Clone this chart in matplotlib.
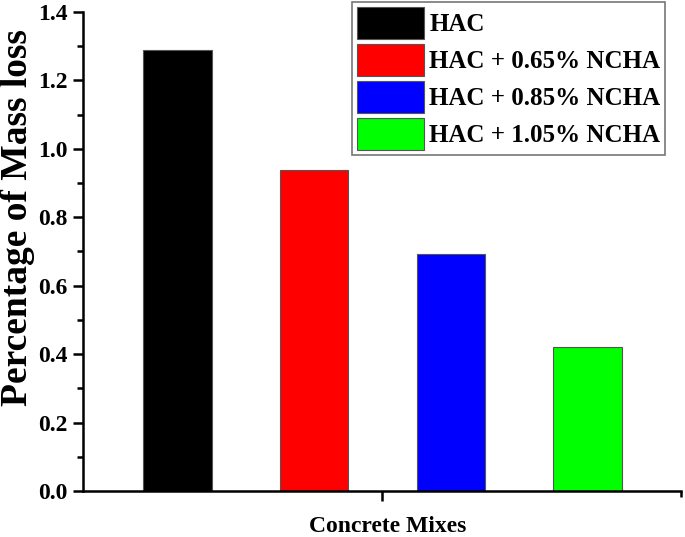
import matplotlib
matplotlib.use("Agg")
import matplotlib.pyplot as plt
from matplotlib.ticker import MultipleLocator

categories = ["HAC", "HAC + 0.65% NCHA", "HAC + 0.85% NCHA", "HAC + 1.05% NCHA"]
values = [1.289, 0.938, 0.692, 0.420]
colors = ["#000000", "#ff0000", "#0000ff", "#00ff00"]

plt.rcParams['font.family'] = ['Liberation Serif', 'DejaVu Serif']
plt.rcParams['font.weight'] = 'bold'

fig = plt.figure(figsize=(6.85, 5.37), dpi=100)
ax = fig.add_axes([0.1212, 0.0857, 0.873, 0.892])

xs = [1, 2, 3, 4]
for x, v, c, lab in zip(xs, values, colors, categories):
    ax.bar(x, v, width=0.5, color=c, edgecolor="#555555", linewidth=0.8, label=lab)

ax.set_xlim(0.31, 4.685)
ax.set_ylim(0, 1.4)
ax.yaxis.set_major_locator(MultipleLocator(0.2))
ax.yaxis.set_minor_locator(MultipleLocator(0.1))
ax.set_xticks([2.5])
ax.set_xticklabels([""])
ax.set_xticks([4.685], minor=True)

for s in ["top", "right"]:
    ax.spines[s].set_visible(False)
for s in ["left", "bottom"]:
    ax.spines[s].set_linewidth(1.8)

ax.tick_params(axis='both', which='major', length=7, width=1.8, direction='out')
ax.tick_params(axis='both', which='minor', length=4, width=1.8, direction='out')
ax.tick_params(axis='y', labelsize=17, pad=4)
for t in ax.get_yticklabels():
    t.set_fontweight('bold')

ax.set_ylabel("Percentage of Mass loss", fontsize=27, fontweight='bold')
ax.yaxis.set_label_coords(-0.081, 0.57)
ax.set_xlabel("Concrete Mixes", fontsize=17, fontweight='bold')
ax.xaxis.set_label_coords(0.51, -0.053)

leg = ax.legend(loc='upper right', bbox_to_anchor=(0.974, 1.021), borderaxespad=0,
                prop={'size': 18, 'weight': 'bold'}, handlelength=2.7, handleheight=1.59,
                labelspacing=0.2, handletextpad=0.2, borderpad=0.2, fancybox=False,
                framealpha=1, edgecolor="#777777")
leg.get_frame().set_linewidth(1.2)

fig.savefig("out.png", dpi=100)
